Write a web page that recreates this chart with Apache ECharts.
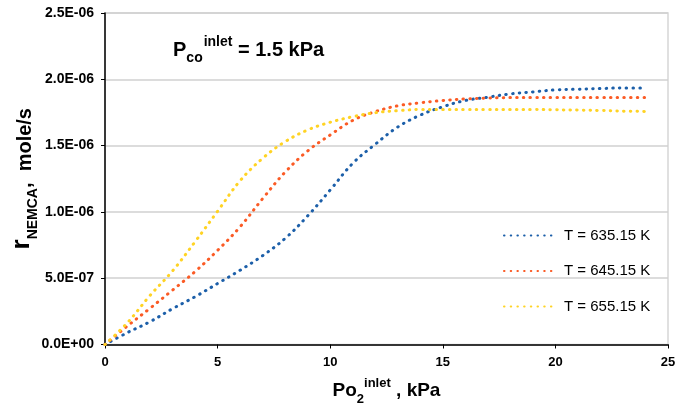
<!DOCTYPE html>
<html>
<head>
<meta charset="utf-8">
<script src="https://cdn.jsdelivr.net/npm/echarts@6/dist/echarts.min.js"></script>
<style>html,body{margin:0;padding:0;background:#fff}#c{width:690px;height:403px}</style>
</head>
<body>
<div id="c"></div>
<script>
var xValues = [0,1,2,3,4,5,6,7,8,9,10,11,12,13,14,15,16,17,18,19,20,21,22,23,24];
var seriesNames = ['T = 635.15 K', 'T = 645.15 K', 'T = 655.15 K'];
var t635 = [0,0.09e-6,0.172e-6,0.27e-6,0.36e-6,0.46e-6,0.56e-6,0.67e-6,0.80e-6,0.97e-6,1.165e-6,1.366e-6,1.51e-6,1.64e-6,1.73e-6,1.793e-6,1.84e-6,1.865e-6,1.89e-6,1.905e-6,1.92e-6,1.925e-6,1.93e-6,1.935e-6,1.935e-6];
var t645 = [0,0.14e-6,0.273e-6,0.41e-6,0.55e-6,0.71e-6,0.888e-6,1.10e-6,1.30e-6,1.46e-6,1.58e-6,1.69e-6,1.756e-6,1.80e-6,1.823e-6,1.84e-6,1.852e-6,1.858e-6,1.862e-6,1.862e-6,1.862e-6,1.862e-6,1.862e-6,1.862e-6,1.862e-6];
var t655 = [0,0.165e-6,0.37e-6,0.555e-6,0.775e-6,1.005e-6,1.235e-6,1.404e-6,1.53e-6,1.618e-6,1.676e-6,1.718e-6,1.748e-6,1.763e-6,1.772e-6,1.772e-6,1.772e-6,1.772e-6,1.772e-6,1.772e-6,1.77e-6,1.768e-6,1.765e-6,1.76e-6,1.758e-6];
var xTicks = [0,5,10,15,20,25];
var yTicks = [0,0.5e-6,1.0e-6,1.5e-6,2.0e-6,2.5e-6];

var colors = ['#1c5fa9', '#fb5b25', '#ffd324'];
var allSeries = [t635, t645, t655];

function sci(v) {
  if (Math.abs(v) < 1e-15) return '0.0E+00';
  var s = v.toExponential(1).split('e');
  var e = parseInt(s[1], 10);
  var ae = Math.abs(e);
  return s[0] + 'E' + (e < 0 ? '-' : '+') + (ae < 10 ? '0' + ae : '' + ae);
}

var font = '"Liberation Sans", Arial, sans-serif';
var chart = echarts.init(document.getElementById('c'));
chart.setOption({
  animation: false,
  color: colors,
  textStyle: { fontFamily: font },
  title: {
    left: 168, top: 30,
    text: '{p|P}{sub|co}{sup|inlet}{p| = 1.5 kPa}',
    textStyle: {
      rich: {
        p: { fontSize: 20, fontWeight: 'bold', color: '#000', fontFamily: font, verticalAlign: 'bottom', lineHeight: 24 },
        sub: { fontSize: 14, fontWeight: 'bold', color: '#000', fontFamily: font, padding: [0,0,-5,0], verticalAlign: 'bottom' },
        sup: { fontSize: 14, fontWeight: 'bold', color: '#000', fontFamily: font, padding: [0,0,11,1], verticalAlign: 'bottom' }
      }
    }
  },
  grid: { left: 105, right: 22, top: 13, bottom: 58.5, outerBoundsMode: 'none', containLabel: false, show: true, borderColor: '#d6d6d6', borderWidth: 1.5 },
  legend: {
    orient: 'vertical', left: 498, top: 223,
    itemWidth: 52, itemHeight: 14, itemGap: 20.5,
    data: seriesNames,
    itemStyle: { opacity: 0 },
    textStyle: { fontSize: 15, color: '#000', fontFamily: font, padding: [0,0,0,3] }
  },
  xAxis: {
    type: 'value', min: 0, max: 25, interval: 5,
    axisLine: { lineStyle: { color: '#000', width: 1.5 } },
    axisTick: { show: true, length: 4, lineStyle: { color: '#000' } },
    axisLabel: { fontSize: 13, fontWeight: 'bold', color: '#000', margin: 11, customValues: xTicks },
    splitLine: { show: false },
    name: '{a|Po}{sub|2}{sup|inlet}{a| , kPa}',
    nameLocation: 'middle', nameGap: 32, nameMoveOverlap: false,
    nameTextStyle: {
      rich: {
        a: { fontSize: 19, fontWeight: 'bold', color: '#000', fontFamily: font, verticalAlign: 'bottom', lineHeight: 22 },
        sub: { fontSize: 13, fontWeight: 'bold', color: '#000', fontFamily: font, padding: [0,0,-5,0], verticalAlign: 'bottom' },
        sup: { fontSize: 13, fontWeight: 'bold', color: '#000', fontFamily: font, padding: [0,0,11,0], verticalAlign: 'bottom' }
      }
    }
  },
  yAxis: {
    type: 'value', min: 0, max: 2.5e-6, interval: 0.5e-6,
    axisLine: { show: true, lineStyle: { color: '#000', width: 1.5 } },
    axisTick: { show: true, length: 4, lineStyle: { color: '#000' } },
    axisLabel: { fontSize: 14, fontWeight: 'bold', color: '#000', margin: 11, formatter: sci },
    splitLine: { show: true, lineStyle: { color: '#d0d0d0', width: 1.5 } },
    name: '{r|r}{sub|NEMCA}{a|,  mole/s}',
    nameLocation: 'middle', nameGap: 70, nameRotate: 90, nameMoveOverlap: false,
    nameTextStyle: {
      rich: {
        r: { fontSize: 26, fontWeight: 'bold', color: '#000', fontFamily: font, verticalAlign: 'bottom', lineHeight: 28 },
        a: { fontSize: 20, fontWeight: 'bold', color: '#000', fontFamily: font, verticalAlign: 'bottom', lineHeight: 28 },
        sub: { fontSize: 14, fontWeight: 'bold', color: '#000', fontFamily: font, padding: [0,0,-5,0], verticalAlign: 'bottom' }
      }
    }
  },
  series: seriesNames.map(function (n, i) {
    return {
      name: n, type: 'line', smooth: 0.4, symbol: 'none',
      data: xValues.map(function (x, j) { return [x, allSeries[i][j]]; }),
      lineStyle: { color: colors[i], width: 3, type: [0.5, 6.2], cap: 'round' }
    };
  })
});
</script>
</body>
</html>
